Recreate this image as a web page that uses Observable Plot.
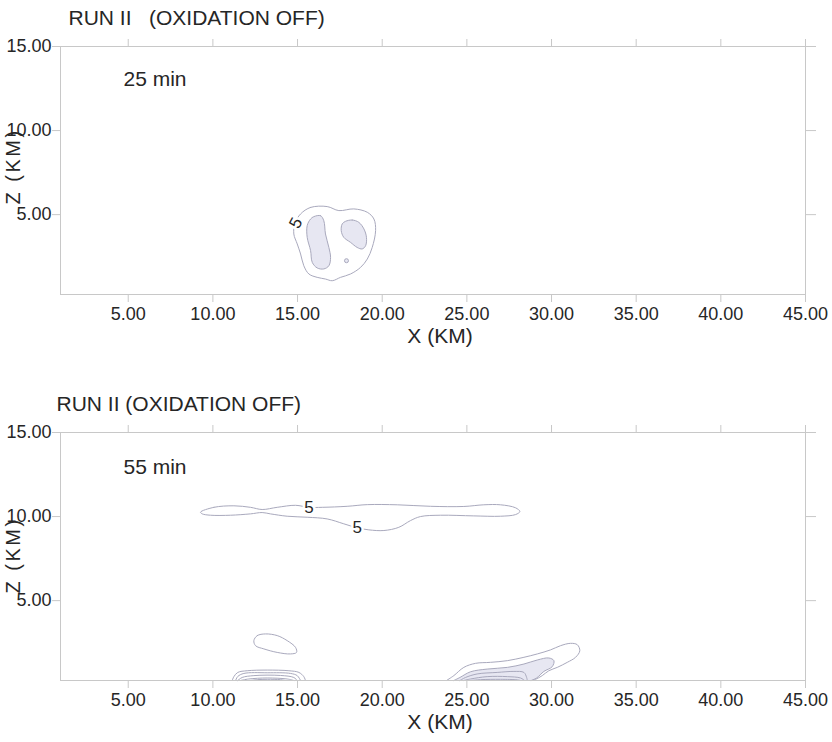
<!DOCTYPE html>
<html>
<head>
<meta charset="utf-8">
<script src="https://cdn.jsdelivr.net/npm/d3@7"></script>
<script src="https://cdn.jsdelivr.net/npm/@observablehq/plot@0.6"></script>
<style>
  body { margin: 0; background: #fff; }
  #chart svg { display: block; }
</style>
</head>
<body>
<div id="chart"></div>
<script>
// Axis ticks (km)
const xTicks = [5, 10, 15, 20, 25, 30, 35, 40, 45];
const zTicks = [5, 10, 15];

// ---- 25 min contours: [x km, z km] ----
const c25Outer = [[15.18,5.04],[15.77,5.43],[16.75,5.48],[17.44,5.24],[18.32,5.34],[19.12,5.14],[19.51,4.74],[19.61,4.05],[19.41,3.05],[19.12,2.36],[18.72,1.86],[18.13,1.47],[17.54,1.27],[17.05,1.07],[16.65,1.17],[16.16,1.27],[15.67,1.47],[15.37,1.96],[15.18,2.66],[14.98,3.26],[14.78,3.85],[14.85,4.5]];
const c25InnerWest = [[15.96,4.88],[16.36,4.94],[16.55,4.64],[16.65,3.85],[16.85,3.05],[16.95,2.46],[16.85,1.96],[16.55,1.77],[16.16,1.83],[15.87,2.16],[15.77,2.86],[15.57,3.65],[15.57,4.35],[15.77,4.74]];
const c25InnerEast = [[17.83,4.60],[18.23,4.68],[18.62,4.54],[18.92,4.15],[19.07,3.65],[19.02,3.15],[18.82,2.96],[18.52,3.05],[18.13,3.35],[17.73,3.65],[17.58,4.05],[17.64,4.45]];
const c25Spots = [[17.89, 2.26]];
const c25Labels = [{x: 14.9, z: 4.5, text: "5", rotate: -62}];

// ---- 55 min contours ----
const c55Band = [[9.27,10.26],[10.06,10.55],[11.24,10.64],[12.22,10.55],[12.91,10.42],[13.80,10.55],[14.88,10.67],[15.67,10.55],[16.46,10.55],[17.93,10.61],[19.12,10.71],[20.89,10.70],[22.86,10.61],[24.82,10.60],[26.00,10.70],[26.99,10.70],[27.88,10.52],[28.13,10.30],[27.88,10.12],[26.99,10.02],[25.41,10.04],[23.45,10.08],[22.26,10.00],[21.67,9.76],[20.98,9.36],[20.10,9.17],[19.21,9.21],[18.53,9.33],[17.73,9.57],[16.75,9.86],[15.57,9.96],[14.39,10.02],[13.40,10.16],[12.91,10.24],[12.22,10.16],[11.04,10.08],[9.86,10.08],[9.37,10.16]];
const c55Blob = [[12.42,2.62],[12.62,2.92],[13.11,3.02],[13.80,2.92],[14.39,2.62],[14.88,2.22],[14.94,1.92],[14.58,1.83],[13.80,1.92],[13.01,2.13],[12.52,2.32]];
// surface cells, west
const c55West1 = [[11.14,0.25],[11.24,0.48],[11.47,0.73],[12.03,0.83],[13.21,0.87],[14.49,0.83],[15.08,0.73],[15.37,0.48],[15.47,0.25]];
const c55West2 = [[11.34,0.25],[11.47,0.49],[11.83,0.67],[13.21,0.71],[14.59,0.67],[14.98,0.54],[15.18,0.25]];
const c55West3 = [[11.47,0.25],[11.73,0.43],[12.42,0.54],[13.99,0.55],[14.78,0.43],[14.98,0.25]];
const c55West4 = [[11.63,0.25],[12.12,0.34],[13.21,0.40],[14.39,0.34],[14.78,0.25]];
const c55West5 = [[12.22,0.25],[12.62,0.30],[13.21,0.32],[13.99,0.30],[14.29,0.25]];
// surface cells, east
const c55East1 = [[23.80,0.25],[24.23,0.54],[24.82,1.03],[25.51,1.27],[26.40,1.33],[27.39,1.43],[28.37,1.63],[29.16,1.83],[29.94,2.07],[30.53,2.32],[31.12,2.46],[31.52,2.38],[31.67,2.02],[31.42,1.63],[30.93,1.33],[30.34,1.03],[29.84,0.83],[29.45,0.54],[29.06,0.32],[28.86,0.25]];
const c55East2 = [[24.23,0.25],[24.59,0.43],[25.22,0.77],[26.20,0.93],[27.39,1.03],[28.37,1.23],[29.16,1.47],[29.84,1.59],[30.14,1.43],[30.04,1.07],[29.55,0.79],[29.12,0.40],[28.80,0.25]];
const c55East3 = [[24.59,0.25],[24.92,0.43],[25.61,0.64],[26.79,0.73],[27.78,0.79],[28.37,0.73],[28.53,0.43],[28.57,0.25]];
const c55East4 = [[24.82,0.25],[25.22,0.34],[26.20,0.48],[27.39,0.48],[28.17,0.40],[28.41,0.25]];
const c55East5 = [[25.22,0.25],[25.81,0.30],[26.99,0.32],[27.98,0.29],[28.17,0.25]];
const c55Labels = [{x: 15.67, z: 10.55, text: "5", rotate: 0}, {x: 18.53, z: 9.33, text: "5", rotate: 0}];

const FONT = "'Liberation Sans', Arial, Helvetica, sans-serif";
const FRAME = "#c8c8c8";
const INK = "#262626";
const LINE = "#a9a9bd";
const SHADE = "#e7e7f2";

const rows = (lines) => lines.flatMap((pts, id) => pts.map(([x, z]) => ({x, z, id})));

function panel(o) {
  const marks = [
    // shaded interiors
    Plot.line(rows(o.closedFill), {x: "x", y: "z", z: "id", curve: "catmull-rom-closed", fill: SHADE, stroke: "none"}),
    Plot.line(rows(o.openFill), {x: "x", y: "z", z: "id", curve: "catmull-rom", fill: SHADE, stroke: "none"}),
    // contour lines
    Plot.line(rows(o.closed), {x: "x", y: "z", z: "id", curve: "catmull-rom-closed", stroke: LINE, strokeWidth: 1}),
    Plot.line(rows(o.open), {x: "x", y: "z", z: "id", curve: "catmull-rom", stroke: LINE, strokeWidth: 1}),
    Plot.dot(o.spots, {x: d => d[0], y: d => d[1], r: 2, stroke: LINE, strokeWidth: 1, fill: SHADE}),
    Plot.text(o.labels, {x: "x", y: "z", text: "text", rotate: "rotate", fontSize: 17, fill: INK, stroke: "white", strokeWidth: 5}),
    // frame and axes
    Plot.frame({stroke: FRAME}),
    Plot.axisX(xTicks, {anchor: "bottom", tickSize: 8, tickPadding: 5, stroke: FRAME, fill: INK, fontSize: 18, tickFormat: d3.format(".2f"), label: null}),
    Plot.axisX(xTicks, {anchor: "top", tickSize: 8, stroke: FRAME, fill: "none", label: null}),
    Plot.axisY(zTicks, {anchor: "left", tickSize: 8, tickPadding: 1, stroke: FRAME, fill: INK, fontSize: 18, tickFormat: d3.format(".2f"), label: null}),
    Plot.axisY(zTicks, {anchor: "right", tickSize: 10, stroke: FRAME, fill: "none", label: null}),
    // texts
    Plot.text([o.title], {frameAnchor: "top-left", dx: o.titleDx, dy: -28, textAnchor: "start", lineAnchor: "middle", fontSize: 21, fill: INK}),
    Plot.text([o.time], {frameAnchor: "top-left", dx: 63, dy: o.timeDy, textAnchor: "start", lineAnchor: "middle", fontSize: 21, fill: INK}),
    Plot.text(["X (KM)"], {frameAnchor: "bottom", dx: 7, dy: 42, textAnchor: "middle", lineAnchor: "middle", fontSize: 21, fill: INK}),
    Plot.text(["Z (KM)"], {frameAnchor: "left", dx: -47, dy: o.zLabelDy, rotate: -90, textAnchor: "middle", lineAnchor: "middle", fontSize: 20, fill: INK})
  ];
  const svg = Plot.plot({
    width: 832,
    height: o.height,
    marginTop: o.marginTop,
    marginBottom: o.height - o.marginTop - 248,
    marginLeft: 60,
    marginRight: 27,
    style: {fontFamily: FONT, background: "white", overflow: "visible"},
    x: {domain: [1, 45]},
    y: {domain: [0.25, 15]},
    marks
  });
  d3.select(svg).selectAll("text").filter(function () { return this.textContent === "Z (KM)"; })
    .attr("letter-spacing", "2.5px");
  return svg;
}

const chart = document.getElementById("chart");
chart.append(panel({
  height: 385, marginTop: 46,
  title: "RUN II   (OXIDATION OFF)", titleDx: 8,
  time: "25 min", timeDy: 33, zLabelDy: -4,
  closed: [c25Outer, c25InnerWest, c25InnerEast],
  closedFill: [c25InnerWest, c25InnerEast],
  open: [], openFill: [],
  spots: c25Spots,
  labels: c25Labels
}));
chart.append(panel({
  height: 357, marginTop: 47,
  title: "RUN II (OXIDATION OFF)", titleDx: -4,
  time: "55 min", timeDy: 35, zLabelDy: -1,
  closed: [c55Band, c55Blob],
  closedFill: [],
  open: [c55West1, c55West2, c55West3, c55West4, c55West5, c55East1, c55East2, c55East3, c55East4, c55East5],
  openFill: [c55East2],
  spots: [],
  labels: c55Labels
}));
</script>
</body>
</html>
